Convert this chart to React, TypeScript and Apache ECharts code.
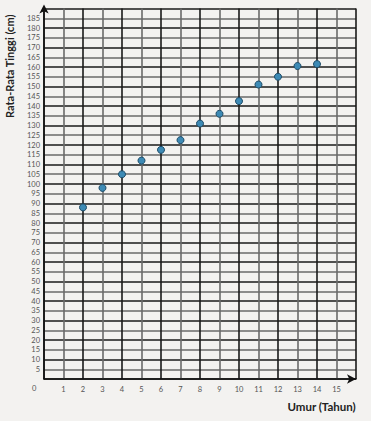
import React, { useEffect, useRef } from "react";
import * as echarts from "echarts";

const ages = [2, 3, 4, 5, 6, 7, 8, 9, 10, 11, 12, 13, 14];
const heights = [88, 98, 105, 112, 117.5, 122.5, 131, 136, 142.5, 151, 155, 160.5, 161.5];
const xTitle = "Umur (Tahun)";
const yTitle = "Rata-Rata Tinggi (cm)";

export default function App() {
  const ref = useRef<HTMLDivElement>(null);
  useEffect(() => {
    if (!ref.current) return;
    const chart = echarts.init(ref.current, undefined, { renderer: "svg" });
    const font = "Lato, 'Open Sans', sans-serif";
    chart.setOption({
      animation: false,
      backgroundColor: "#f3f2f0",
      grid: { left: 44, top: 8.5, right: 15, bottom: 42, containLabel: false },
      xAxis: {
        type: "value",
        min: 0,
        max: 16,
        interval: 1,
        axisLine: {
          show: true,
          lineStyle: { color: "#111", width: 1.5 },
          symbol: ["none", "arrow"],
          symbolSize: [7, 9],
          symbolOffset: [0, 0],
        },
        axisTick: { show: false },
        axisLabel: {
          color: "#555",
          fontSize: 7.5,
          fontFamily: font,
          margin: 6,
          formatter: (v: number) => (v === 0 || v === 16 ? "" : String(v)),
        },
        splitLine: { show: true, lineStyle: { color: ["#1a1a1a", "#6a6a6a"], width: 1.6 } },
      },
      yAxis: {
        type: "value",
        min: 0,
        max: 190,
        interval: 5,
        axisLine: {
          show: true,
          lineStyle: { color: "#111", width: 1.5 },
          symbol: ["none", "arrow"],
          symbolSize: [7, 9],
          symbolOffset: [0, 4],
        },
        axisTick: { show: false },
        axisLabel: {
          color: "#555",
          fontSize: 7.5,
          fontFamily: font,
          margin: 4,
          formatter: (v: number) => (v === 0 || v === 190 ? "" : String(v)),
        },
        splitLine: { show: true, lineStyle: { color: ["#1a1a1a", "#6a6a6a"], width: 1.6 } },
      },
      graphic: [
        {
          type: "text",
          left: 32,
          top: 384,
          style: { text: "0", fill: "#555", font: `7.5px ${font}` },
        },
        {
          type: "text",
          right: 15,
          top: 400,
          style: { text: xTitle, fill: "#222", font: `bold 11.5px ${font}` },
        },
        {
          type: "text",
          x: 4,
          y: 118,
          rotation: Math.PI / 2,
          style: { text: yTitle, fill: "#222", font: `bold 11px ${font}`, textAlign: "left", textVerticalAlign: "top" },
        },
      ],
      series: [
        {
          type: "scatter",
          data: ages.map((a, i) => [a, heights[i]]),
          symbolSize: 7,
          itemStyle: { color: "#3d8ab5", borderColor: "#1d4a66", borderWidth: 1, opacity: 1 },
          z: 5,
        },
      ],
    });
    return () => chart.dispose();
  }, []);
  return (
    <div
      ref={ref}
      style={{ position: "fixed", left: 0, top: 0, width: 371, height: 421, background: "#f3f2f0" }}
    />
  );
}
